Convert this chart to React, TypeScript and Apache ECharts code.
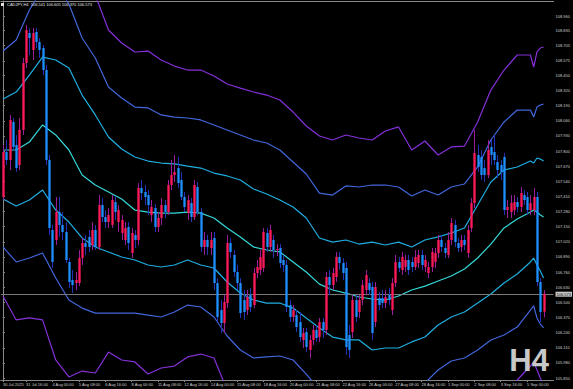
import React, { useEffect, useRef } from "react";
import * as echarts from "echarts";

// ---- candles (bar index 0 = 30 Jul 12:00, H4 bars) ----
const opens = [107.405,107.792,107.723,108.050,107.852,107.680,107.981,108.556,108.814,108.668,
108.823,108.737,108.685,108.496,107.723,107.122,107.036,107.276,107.165,107.104,
106.847,106.692,106.666,106.666,106.881,107.010,107.062,106.993,107.122,106.976,
107.336,107.233,107.190,107.165,107.362,107.190,107.096,107.036,107.147,106.924,
107.079,107.036,107.482,107.448,107.422,107.250,107.310,107.147,107.225,107.336,
107.276,107.508,107.594,107.654,107.551,107.405,107.267,107.353,107.233,107.491,
107.276,106.976,107.036,106.967,107.053,106.666,106.434,106.322,106.494,107.010,
106.907,106.761,106.666,106.520,106.434,106.563,106.477,106.752,106.778,106.795,
107.096,106.976,107.036,106.950,106.967,106.864,106.821,106.477,106.374,106.391,
106.331,106.177,106.245,106.091,106.177,106.263,106.202,106.331,106.263,106.718,
106.649,106.718,106.890,106.838,106.795,106.220,106.245,106.520,106.417,106.520,
106.606,106.666,106.632,106.331,106.537,106.537,106.494,106.563,106.434,106.666,
106.847,106.778,106.804,106.864,106.847,106.804,106.838,106.907,106.804,106.752,
106.804,106.847,106.924,107.036,106.967,106.907,107.036,107.165,107.010,106.976,
107.036,106.924,107.139,107.353,107.766,107.749,107.654,107.594,107.835,107.792,
107.706,107.680,107.749,107.293,107.276,107.293,107.362,107.319,107.422,107.405,
107.293,107.293,107.405,106.675,106.420];
const closes = [107.792,107.723,108.067,107.835,107.654,107.981,108.556,108.840,108.771,108.814,
108.737,108.668,108.496,107.723,107.139,106.847,107.276,107.165,107.104,106.864,
106.675,106.649,106.692,106.881,107.010,106.976,106.976,107.122,106.976,107.336,
107.233,107.190,107.250,107.379,107.276,107.293,107.208,107.139,107.010,107.096,
107.036,107.482,107.439,107.405,107.336,107.319,107.147,107.225,107.336,107.276,
107.508,107.594,107.620,107.525,107.405,107.319,107.379,107.233,107.508,107.276,
106.976,107.036,106.976,107.036,106.666,106.374,106.322,106.503,107.010,106.933,
106.761,106.666,106.408,106.417,106.546,106.460,106.752,106.804,106.890,107.104,
106.976,107.122,106.950,106.958,106.838,106.821,106.460,106.374,106.434,106.288,
106.202,106.237,106.116,106.177,106.263,106.194,106.331,106.263,106.718,106.649,
106.752,106.890,106.838,106.752,106.116,106.091,106.520,106.374,106.520,106.649,
106.735,106.606,106.237,106.632,106.477,106.494,106.546,106.520,106.666,106.847,
106.795,106.890,106.864,106.778,106.804,106.890,106.907,106.821,106.864,106.804,
106.933,106.924,107.036,106.976,106.924,107.036,107.182,107.018,106.967,107.036,
106.993,107.122,107.353,107.783,107.663,107.594,107.594,107.809,107.766,107.723,
107.637,107.620,107.293,107.319,107.353,107.362,107.319,107.439,107.379,107.293,
107.353,107.405,106.675,106.417,106.573];
const highs = [107.852,107.895,108.110,108.084,107.938,108.084,108.599,108.883,108.857,108.857,
108.857,108.771,108.711,108.539,107.766,107.165,107.405,107.405,107.276,107.190,
106.881,106.778,106.761,106.950,107.053,107.079,107.122,107.190,107.165,107.422,
107.396,107.293,107.310,107.422,107.413,107.336,107.250,107.190,107.190,107.139,
107.122,107.525,107.551,107.508,107.465,107.379,107.345,107.276,107.396,107.379,
107.551,107.723,107.766,107.749,107.620,107.448,107.422,107.396,107.551,107.534,
107.310,107.104,107.079,107.104,107.104,106.709,106.520,106.563,107.079,107.053,
106.950,106.821,106.709,106.606,106.606,106.623,106.795,106.864,106.950,107.139,
107.139,107.165,107.079,107.001,107.001,106.907,106.864,106.520,106.477,106.434,
106.417,106.280,106.280,106.220,106.306,106.306,106.366,106.366,106.761,106.778,
106.795,106.933,106.933,106.881,106.847,106.306,106.563,106.563,106.563,106.692,
106.778,106.709,106.675,106.675,106.589,106.606,106.606,106.623,106.709,106.907,
106.890,106.933,106.907,106.907,106.890,106.950,106.950,106.950,106.907,106.847,
106.967,106.967,107.079,107.079,107.010,107.104,107.225,107.208,107.053,107.079,
107.079,107.165,107.396,107.981,107.852,107.809,107.723,107.895,107.895,107.938,
107.766,107.723,107.783,107.379,107.422,107.422,107.405,107.491,107.465,107.448,
107.422,107.482,107.448,106.709,106.605];
const lows = [107.379,107.680,107.637,107.809,107.620,107.637,107.938,108.513,108.625,108.582,
108.685,108.599,108.453,107.680,107.079,106.795,106.993,107.062,107.036,106.838,
106.623,106.580,106.606,106.640,106.821,106.907,106.933,106.950,106.950,106.950,
107.190,107.139,107.139,107.139,107.208,107.104,107.036,106.993,106.950,106.881,
106.967,106.993,107.379,107.336,107.250,107.190,107.104,107.104,107.165,107.225,
107.250,107.465,107.534,107.482,107.379,107.276,107.208,107.190,107.208,107.250,
106.933,106.907,106.907,106.907,106.606,106.331,106.237,106.237,106.451,106.881,
106.718,106.606,106.366,106.349,106.391,106.417,106.451,106.709,106.735,106.761,
106.933,106.933,106.881,106.898,106.795,106.761,106.417,106.331,106.331,106.245,
106.160,106.108,106.073,106.022,106.134,106.160,106.160,106.194,106.220,106.563,
106.606,106.675,106.778,106.692,106.048,106.022,106.194,106.331,106.366,106.477,
106.563,106.563,106.177,106.288,106.434,106.451,106.451,106.477,106.391,106.632,
106.761,106.735,106.761,106.735,106.761,106.778,106.795,106.778,106.761,106.709,
106.761,106.795,106.881,106.933,106.881,106.881,106.993,106.976,106.933,106.933,
106.950,106.881,107.104,107.310,107.620,107.551,107.534,107.568,107.680,107.680,
107.568,107.551,107.250,107.225,107.225,107.250,107.276,107.276,107.336,107.250,
107.250,107.250,106.640,106.331,106.370];

// ---- band lines, read at these bar indexes ----
const bandBars = [0,4,8,12,16,20,24,28,32,36,40,44,48,52,56,60,64,68,72,76,80,84,88,92,96,100,
104,108,112,116,120,124,128,132,136,140,144,148,152,156,160,161,162,163,164];
const midBand = [107.809,107.809,107.877,108.024,107.938,107.809,107.594,107.508,107.448,107.388,
107.293,107.276,107.267,107.267,107.276,107.267,107.225,107.139,107.062,106.976,
106.950,106.933,106.847,106.761,106.657,106.606,106.580,106.546,106.529,106.520,
106.555,106.606,106.640,106.683,106.726,106.786,106.881,107.001,107.139,107.216,
107.276,107.293,107.276,107.250,107.233];
const upper1 = [108.247,108.307,108.453,108.607,108.582,108.513,108.281,108.110,107.921,107.817,
107.749,107.714,107.697,107.689,107.671,107.654,107.611,107.586,107.551,107.474,
107.431,107.379,107.319,107.225,107.053,107.018,107.036,107.001,107.018,106.993,
107.018,106.976,107.036,107.062,107.096,107.139,107.336,107.534,107.637,107.663,
107.714,107.697,107.740,107.731,107.714];
const upper2 = [108.659,108.754,109.012,109.192,109.226,109.063,108.771,108.599,108.350,108.256,
108.178,108.170,108.110,108.092,108.084,108.067,108.024,107.981,107.938,107.895,
107.869,107.809,107.706,107.603,107.439,107.422,107.500,107.491,107.508,107.508,
107.491,107.414,107.465,107.422,107.491,107.517,107.663,107.895,108.050,108.152,
108.152,108.092,108.178,108.195,108.204];
const upper3 = [109.140,109.269,109.484,109.785,109.871,109.742,109.441,109.140,108.840,108.728,
108.651,108.659,108.582,108.530,108.496,108.496,108.445,108.376,108.341,108.307,
108.281,108.238,108.135,108.015,107.929,107.895,107.938,107.912,107.895,107.972,
108.007,107.809,107.886,107.766,107.835,107.843,108.050,108.324,108.496,108.625,
108.625,108.522,108.651,108.685,108.694];
const lower1 = [107.388,107.328,107.379,107.465,107.293,107.190,107.053,106.976,106.933,106.890,
106.864,106.821,106.804,106.821,106.864,106.821,106.795,106.675,106.580,106.520,
106.494,106.494,106.451,106.366,106.280,106.202,106.177,106.177,106.091,106.108,
106.108,106.160,106.202,106.306,106.374,106.417,106.494,106.572,106.666,106.744,
106.847,106.881,106.821,106.769,106.709];
const lower2 = [106.976,106.847,106.881,106.924,106.709,106.520,106.451,106.408,106.408,106.408,
106.408,106.391,106.374,106.417,106.477,106.460,106.374,106.211,106.091,106.022,
106.031,106.039,106.005,105.884,105.747,105.661,105.704,105.730,105.661,105.695,
105.678,105.704,105.807,105.919,105.996,106.022,106.091,106.177,106.220,106.288,
106.434,106.469,106.366,106.314,106.280];
const lower3 = [106.555,106.349,106.366,106.349,106.005,105.859,105.910,105.893,106.073,106.005,
105.988,105.884,105.936,105.953,106.031,106.056,106.022,105.747,105.575,105.610,
105.575,105.558,105.532,105.446,105.386,105.317,105.369,105.352,105.274,105.283,
105.266,105.317,105.403,105.506,105.575,105.618,105.678,105.730,105.764,105.833,
105.953,105.988,105.919,105.850,105.790];

// ---- axes ----
const timeLabels = ["30 Jul 2025","31 Jul 16:00","4 Aug 00:00","5 Aug 08:00","6 Aug 16:00","8 Aug 00:00",
"11 Aug 08:00","12 Aug 16:00","14 Aug 00:00","15 Aug 08:00","18 Aug 16:00","20 Aug 00:00","21 Aug 08:00",
"22 Aug 16:00","26 Aug 00:00","27 Aug 08:00","28 Aug 16:00","1 Sep 00:00","2 Sep 08:00","3 Sep 16:00","5 Sep 00:00"];
const timeLabelBars = [0,7,15,23,31,39,47,55,63,71,79,87,95,103,111,119,127,135,143,151,159];
const priceLabels = ["108.960","108.835","108.705","108.575","108.450","108.320","108.190","108.060",
"107.930","107.800","107.670","107.540","107.410","107.280","107.150","107.020","106.890","106.760",
"106.630","106.500","106.370","106.240","106.110","105.980","105.850"];
const lastPrice = 106.573;
const headerText = "CADJPY,H4  106.541 106.605 106.370 106.573";
const periodText = "H4";

const FONT = "Liberation Sans";

export default function App() {
  const ref = useRef<HTMLDivElement>(null);
  useEffect(() => {
    if (!ref.current) return;
    const chart = echarts.init(ref.current, null, { renderer: "svg" });
    const candleData = opens.map((o, i) => [i, o, closes[i], lows[i], highs[i]]);
    const band = (arr: number[]) => bandBars.map((b, j) => [b, arr[j]]);
    const lineSeries = (name: string, arr: number[], color: string, extra: any = {}) => ({
      name, type: "line", data: band(arr), symbol: "none", silent: true,
      lineStyle: { color, width: 1.2 }, z: 2, ...extra,
    });
    const labelVals = priceLabels.map((s) => parseFloat(s));
    chart.setOption({
      animation: false,
      backgroundColor: "#000000",
      grid: { left: 0, right: 18, top: 1, bottom: 9, containLabel: false },
      xAxis: [
        {
          type: "value", min: -0.665, max: 167.02, position: "bottom",
          splitLine: { show: false },
          axisLine: { show: true, lineStyle: { color: "#8a8a8a", width: 1 } },
          axisTick: { show: true, customValues: timeLabelBars, length: 2, lineStyle: { color: "#8a8a8a" } },
          axisLabel: {
            show: true, customValues: timeLabelBars, align: "left", margin: 2,
            fontSize: 4, fontFamily: FONT, color: "#d0d0d0",
            formatter: (v: number) => { const k = timeLabelBars.indexOf(Math.round(v)); return k >= 0 ? timeLabels[k] : ""; },
          },
        },
        {
          type: "value", min: -0.665, max: 167.02, position: "top",
          splitLine: { show: false }, axisTick: { show: false }, axisLabel: { show: false },
          axisLine: { show: true, lineStyle: { color: "#8a8a8a", width: 1 } },
        },
      ],
      yAxis: {
        type: "value", position: "right", min: 105.833, max: 109.089, scale: true,
        splitLine: { show: false },
        axisLine: { show: true, lineStyle: { color: "#8a8a8a", width: 1 } },
        axisTick: { show: true, customValues: labelVals, length: 2, lineStyle: { color: "#8a8a8a" } },
        axisLabel: {
          show: true, customValues: labelVals, margin: 2, fontSize: 4, fontFamily: FONT, color: "#d0d0d0",
          formatter: (v: number) => v.toFixed(3),
        },
      },
      series: [
        lineSeries("upper3", upper3, "#8530d8"),
        lineSeries("upper2", upper2, "#4266dc"),
        lineSeries("upper1", upper1, "#20aee0"),
        lineSeries("middle", midBand, "#34d8d8", {
          markLine: {
            silent: true, symbol: "none",
            lineStyle: { color: "#7a7a7a", width: 1, type: "solid" },
            label: {
              show: true, position: "end", distance: 2, formatter: lastPrice.toFixed(3),
              fontSize: 4, fontFamily: FONT, color: "#000000", backgroundColor: "#c8c8c8", padding: [0.5, 1],
            },
            data: [{ yAxis: lastPrice }],
          },
        }),
        lineSeries("lower1", lower1, "#20aee0"),
        lineSeries("lower2", lower2, "#4266dc"),
        lineSeries("lower3", lower3, "#8530d8"),
        {
          name: "candles", type: "custom", data: candleData, z: 5,
          encode: { x: 0, y: [1, 2, 3, 4] },
          renderItem: (params: any, api: any) => {
            const i = api.value(0);
            const o = api.value(1), c = api.value(2), l = api.value(3), h = api.value(4);
            const pO = api.coord([i, o]);
            const pC = api.coord([i, c]);
            const pH = api.coord([i, h]);
            const pL = api.coord([i, l]);
            const w = api.size([1, 0])[0] * 0.7;
            const up = c >= o;
            const top = Math.min(pO[1], pC[1]);
            const bh = Math.max(Math.abs(pO[1] - pC[1]), 1);
            const xm = Math.round(pO[0]) + 0.5;
            return {
              type: "group",
              children: [
                { type: "line", shape: { x1: xm, y1: pH[1], x2: xm, y2: pL[1] },
                  style: { stroke: up ? "#9a1e9a" : "#2233b8", lineWidth: 1 } },
                { type: "rect", shape: { x: xm - w / 2, y: top, width: w, height: bh },
                  style: { fill: up ? "#ff1a5a" : "#1e90ff" } },
              ],
            };
          },
        },
      ],
      graphic: [
        { type: "rect", left: 1, top: 3, shape: { width: 3, height: 3 }, style: { fill: "#e0e0e0" }, z: 10 },
        { type: "text", left: 7, top: 2, z: 10,
          style: { text: headerText, fontSize: 4, fontFamily: FONT, fill: "#e6e6e6" } },
        { type: "text", right: 24, top: 345, z: 10,
          style: { text: periodText, fontSize: 31, fontWeight: "bold", fontFamily: FONT, fill: "#c8c8c8" } },
      ],
    });
    return () => chart.dispose();
  }, []);
  return (
    <div ref={ref} style={{ position: "fixed", left: 0, top: 0, width: 573, height: 389, background: "#000" }} />
  );
}
